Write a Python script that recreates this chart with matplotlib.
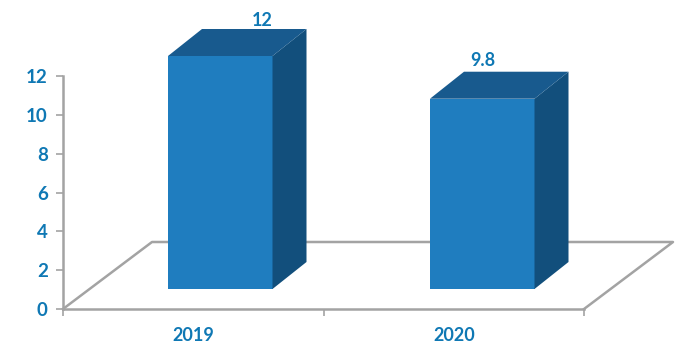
import matplotlib
matplotlib.use('Agg')
import matplotlib.pyplot as plt
from matplotlib.patches import Polygon

# data
years = ['2019', '2020']
values = [12, 9.8]
yticks = [0, 2, 4, 6, 8, 10, 12]

W, H = 691, 345
blue = '#0f78b4'
front = '#1f7dbf'
side = '#124f7c'
top = '#185a8e'
floor_col = '#a3a3a3'

fig = plt.figure(figsize=(W / 100, H / 100), dpi=100)
ax = fig.add_axes([63 / W, 1 - 309 / H, 521 / W, 233 / H])
ax.set_xlim(0, 2)
ax.set_ylim(0, 12)
ax.patch.set_alpha(0)

px_x = 2 / 521
px_y = 12 / 233

# floor
dx, dy = 89 * px_x, 67 * px_y
ax.plot([0, dx, 2 + dx, 2], [0, dy, dy, 0], color=floor_col, lw=1.8, clip_on=False, zorder=1)

# bars
pos = [0.5, 1.5]
shifts = [27 * px_x, 28.5 * px_x]
label_off = [94 * px_x, 53 * px_x]
label_gap = [0, 3 * px_y]
bar_w = 104.5 * px_x
base = 20 * px_y
ddx, ddy = 34 * px_x, 27 * px_y
for p, v, sh, lo, gap in zip(pos, values, shifts, label_off, label_gap):
    x0 = p + sh - bar_w / 2
    x1 = x0 + bar_w
    y1 = base + v
    ax.bar(p + sh, v, width=bar_w, bottom=base, color=front, zorder=3, clip_on=False)
    ax.add_patch(Polygon([(x1, base), (x1 + ddx, base + ddy), (x1 + ddx, y1 + ddy), (x1, y1)],
                         color=side, zorder=3, clip_on=False, lw=0))
    ax.add_patch(Polygon([(x0, y1), (x0 + ddx, y1 + ddy), (x1 + ddx, y1 + ddy), (x1, y1)],
                         color=top, zorder=3, clip_on=False, lw=0))
    ax.text(x0 + lo, y1 + ddy + gap, str(v), color=blue, fontsize=13,
            fontweight='bold', ha='center', va='bottom', family='Lato')

for s in ['top', 'right']:
    ax.spines[s].set_visible(False)
for s in ['left', 'bottom']:
    ax.spines[s].set_color(floor_col)
    ax.spines[s].set_linewidth(1.8)

ax.set_yticks(yticks)
ax.set_xticks([0, 1, 2])
ax.set_xticklabels([])
ax.set_xticks(pos, minor=True)
ax.set_xticklabels(years, minor=True)
ax.tick_params(axis='x', which='minor', length=0, pad=13, labelcolor=blue)
ax.tick_params(axis='x', which='major', length=5, width=1.2, color=floor_col, direction='out')
ax.tick_params(axis='y', length=5, width=1.2, color=floor_col, direction='out', pad=6, labelcolor=blue)
for t in ax.get_yticklabels():
    t.set_fontweight('bold')
    t.set_fontfamily('Lato')
    t.set_fontsize(13.5)
for t in ax.get_xticklabels(minor=True):
    t.set_fontweight('bold')
    t.set_fontfamily('Lato')
    t.set_fontsize(13)

plt.savefig('out.png', dpi=100)
